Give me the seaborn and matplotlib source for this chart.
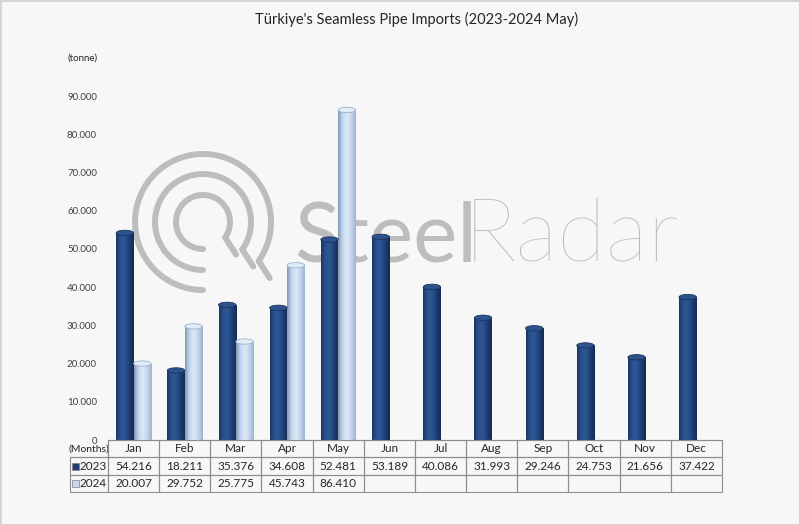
import numpy as np
import pandas as pd
import matplotlib
matplotlib.use("Agg")
import matplotlib.pyplot as plt
from matplotlib.colors import LinearSegmentedColormap
from matplotlib.patches import Ellipse, Rectangle
import seaborn as sns

# Data (tonnes)
months = ["Jan", "Feb", "Mar", "Apr", "May", "Jun",
          "Jul", "Aug", "Sep", "Oct", "Nov", "Dec"]
years = ["2023", "2024"]
imports_2023 = [54216, 18211, 35376, 34608, 52481, 53189,
                40086, 31993, 29246, 24753, 21656, 37422]
imports_2024 = [20007, 29752, 25775, 45743, 86410,
                np.nan, np.nan, np.nan, np.nan, np.nan, np.nan, np.nan]
y_ticks = [0, 10000, 20000, 30000, 40000, 50000, 60000, 70000, 80000, 90000]

BG = "#F7F7F7"
GRID = "#8C8C8C"
WATERMARK = "#BDBDBD"


def fmt(v):
    if pd.isna(v):
        return ""
    return f"{v:,.0f}".replace(",", ".")


def main():
    df = pd.DataFrame({
        "month": months * 2,
        "year": [years[0]] * 12 + [years[1]] * 12,
        "tonnes": imports_2023 + imports_2024,
    })

    sns.set_style("white")
    plt.rcParams["font.family"] = ["Lato", "DejaVu Sans"]

    fig = plt.figure(figsize=(8, 5.25), dpi=100, facecolor=BG)
    fig.patch.set_edgecolor("#D4D4D4")
    fig.patch.set_linewidth(2)

    # background layer in pixel coords for the watermark
    bg = fig.add_axes([0, 0, 1, 1], zorder=0)
    bg.set_xlim(0, 800)
    bg.set_ylim(525, 0)
    bg.axis("off")

    cx, cy = 203, 222
    for r in (27, 48, 68):
        th = np.radians(np.linspace(-35, 270, 200))
        bg.plot(cx + r * np.cos(th), cy - r * np.sin(th), color=WATERMARK,
                lw=4.3, solid_capstyle="round")
        t0 = np.radians(-35)
        x0, y0 = cx + r * np.cos(t0), cy - r * np.sin(t0)
        bg.plot([x0, x0 + 11], [y0, y0 + 17], color=WATERMARK, lw=4.3,
                solid_capstyle="round")
    bg.text(294, 262, "Steel", fontsize=60, color=WATERMARK,
            fontweight="normal", va="baseline", ha="left")
    bg.text(464, 262, "Radar", fontsize=64, color=WATERMARK,
            fontweight="light", va="baseline", ha="left")

    # main plot
    ax = fig.add_axes([108 / 800, 1 - 440 / 525, 614 / 800, 382 / 525], zorder=1)
    ax.patch.set_alpha(0)
    sns.barplot(data=df, x="month", y="tonnes", hue="year", order=months,
                hue_order=years, width=0.68, palette=["#1F3D6E", "#C6D9F1"],
                saturation=1, errorbar=None, legend=False, ax=ax)

    cmaps = {
        "2023": LinearSegmentedColormap.from_list(
            "c23", ["#1a3462", "#2b5391", "#2c5594", "#1e3d70", "#132b52"]),
        "2024": LinearSegmentedColormap.from_list(
            "c24", ["#8396b0", "#c3d6ee", "#dde9f8", "#c3d5ed", "#9db1cb"]),
    }
    caps = {"2023": ("#2d528c", "#1a355f"), "2024": ("#e1ecf9", "#9fb2cb")}
    grad = np.linspace(0, 1, 256).reshape(1, -1)
    cap_h = 1400

    for p in list(ax.patches):
        h = p.get_height()
        if not np.isfinite(h) or h <= 0:
            continue
        x, w = p.get_x(), p.get_width()
        key = "2023" if x + w / 2 < round(x + w / 2) else "2024"
        p.set_facecolor("none")
        p.set_edgecolor("none")
        im = ax.imshow(grad, extent=[x, x + w, 0, h], aspect="auto",
                       cmap=cmaps[key], zorder=2, interpolation="bilinear")
        im.set_clip_path(p)
        fc, ec = caps[key]
        ax.add_patch(Ellipse((x + w / 2, h), w, cap_h, facecolor=fc,
                             edgecolor=ec, lw=0.6, zorder=3))

    ax.set_xlim(-0.5, 11.5)
    ax.set_ylim(0, 100000)
    ax.set_yticks(y_ticks)
    ax.set_yticklabels([fmt(v) for v in y_ticks])
    ax.set_xticks([])
    ax.set_xlabel("")
    ax.set_ylabel("")
    ax.tick_params(axis="y", length=0, pad=8, labelsize=7, labelcolor="#404040")
    for s in ("left", "top", "right"):
        ax.spines[s].set_visible(False)
    ax.spines["bottom"].set_color(GRID)
    ax.spines["bottom"].set_linewidth(0.8)

    # data table under the axis
    cell_text = [["(Months)"] + months,
                 ["2023"] + [fmt(v) for v in imports_2023],
                 ["2024"] + [fmt(v) for v in imports_2024]]
    tbl = ax.table(cellText=cell_text, cellLoc="center",
                   bbox=[-38 / 614, -52 / 382, 652 / 614, 52 / 382])
    tbl.auto_set_font_size(False)
    tbl.set_fontsize(8.5)
    for (r, c), cell in tbl.get_celld().items():
        cell.set_edgecolor(GRID)
        cell.set_facecolor("none")
        cell.set_linewidth(0.8)
        cell.set_width(38 if c == 0 else 51.17)
        cell.get_text().set_color("#262626")
        if c == 0 and r > 0:
            cell.get_text().set_horizontalalignment("right")
            cell.PAD = 0.04
        if r == 0 and c == 0:
            cell.visible_edges = "BR"
            cell.get_text().set_fontsize(7.5)

    for i, col in enumerate(["#1F3D6E", "#C6D9F1"]):
        yc = (440 - (466 + 17 * i)) / 382
        ax.add_patch(Rectangle((-36 / 614, yc - 3.5 / 382), 6.5 / 614, 6.5 / 382,
                               transform=ax.transAxes, clip_on=False,
                               facecolor=col, edgecolor="#7f7f7f", lw=0.5))

    fig.text(417 / 800, 1 - 19 / 525,
             "Türkiye's Seamless Pipe Imports (2023-2024 May)",
             ha="center", va="center", fontsize=10.5, color="#262626")
    fig.text(68 / 800, 1 - 58 / 525, "(tonne)", ha="left", va="center",
             fontsize=7, color="#262626")

    plt.savefig("out.png", dpi=100, facecolor=fig.get_facecolor())


if __name__ == "__main__":
    main()
